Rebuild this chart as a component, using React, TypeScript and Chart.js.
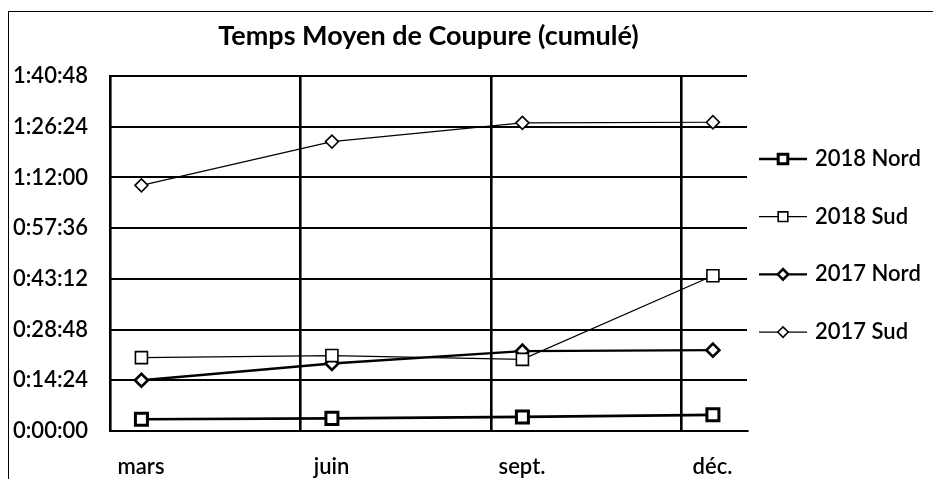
import React, { useEffect, useRef } from 'react';
import { Chart, registerables } from 'chart.js';

Chart.register(...registerables);

// ---- data (seconds) ----
const TITLE = 'Temps Moyen de Coupure (cumulé)';
const CATEGORIES = ['mars', 'juin', 'sept.', 'déc.'];
const SERIES_NAMES = ['2018 Nord', '2018 Sud', '2017 Nord', '2017 Sud'];
const NORD_2018 = [200, 215, 240, 275];
const SUD_2018 = [1250, 1285, 1220, 2645];
const NORD_2017 = [864, 1150, 1360, 1377];
const SUD_2017 = [4185, 4930, 5250, 5260];
const Y_MIN = 0;
const Y_MAX = 6048; // 1:40:48
const Y_STEP = 864; // 0:14:24

// ---- layout / style ----
const FONT = 'Lato, "Open Sans", sans-serif';
const LABEL_WEIGHT = 600;
const GRID_SHIFT = 0.165; // vertical gridlines sit slightly left of each category
const X_MAX_EXTRA = 0.179;

const SERIES_STYLES = [
  { pointStyle: 'rect', pointRadius: 8.5, borderWidth: 2.6, pointBorderWidth: 3 },
  { pointStyle: 'rect', pointRadius: 8.5, borderWidth: 1.2, pointBorderWidth: 1.6 },
  { pointStyle: 'rectRot', pointRadius: 6.5, borderWidth: 2.4, pointBorderWidth: 2.6 },
  { pointStyle: 'rectRot', pointRadius: 6.5, borderWidth: 1.2, pointBorderWidth: 1.6 },
];

const SERIES_VALUES = [NORD_2018, SUD_2018, NORD_2017, SUD_2017];

const pad2 = (n: number) => String(n).padStart(2, '0');
const fmtTime = (s: number) => {
  const t = Math.round(s);
  return `${Math.floor(t / 3600)}:${pad2(Math.floor((t % 3600) / 60))}:${pad2(t % 60)}`;
};

const lineLegend = {
  id: 'lineLegend',
  afterDraw(chart: any) {
    const { ctx, chartArea } = chart;
    const sets = chart.data.datasets;
    const n = sets.length;
    const spacing = 57.7;
    const cy = chart.height / 2;
    ctx.save();
    sets.forEach((ds: any, i: number) => {
      const y = cy + (i - (n - 1) / 2) * spacing;
      const x0 = chartArea.right + 12;
      const x1 = chartArea.right + 60;
      const xm = chartArea.right + 36;
      ctx.strokeStyle = '#000';
      ctx.lineWidth = ds.borderWidth;
      ctx.beginPath();
      ctx.moveTo(x0, y);
      ctx.lineTo(x1, y);
      ctx.stroke();
      const r = ds.pointRadius * 0.8;
      ctx.fillStyle = '#fff';
      ctx.lineWidth = ds.pointBorderWidth;
      ctx.beginPath();
      if (ds.pointStyle === 'rect') {
        const s = r * Math.SQRT1_2;
        ctx.rect(xm - s, y - s, 2 * s, 2 * s);
      } else {
        ctx.moveTo(xm - r, y);
        ctx.lineTo(xm, y - r);
        ctx.lineTo(xm + r, y);
        ctx.lineTo(xm, y + r);
        ctx.closePath();
      }
      ctx.fill();
      ctx.stroke();
      ctx.fillStyle = '#000';
      ctx.font = `${LABEL_WEIGHT} 22px ${FONT}`;
      ctx.textBaseline = 'middle';
      ctx.textAlign = 'left';
      ctx.fillText(ds.label, chartArea.right + 68, y);
    });
    ctx.restore();
  },
};

export default function App() {
  const ref = useRef<HTMLCanvasElement | null>(null);

  useEffect(() => {
    if (!ref.current) return;
    const datasets = SERIES_NAMES.map((name, k) => ({
      label: name,
      data: SERIES_VALUES[k].map((v, i) => ({ x: i, y: v })),
      borderColor: '#000',
      pointBackgroundColor: '#fff',
      pointBorderColor: '#000',
      backgroundColor: '#fff',
      tension: 0,
      fill: false,
      ...SERIES_STYLES[k],
    }));

    const chart = new Chart(ref.current, {
      type: 'line',
      data: { datasets } as any,
      plugins: [lineLegend],
      options: {
        animation: false,
        responsive: false,
        devicePixelRatio: 1,
        layout: { padding: { left: 3, right: 186, top: 0, bottom: 0 } },
        plugins: {
          legend: { display: false },
          tooltip: { enabled: false },
          title: {
            display: true,
            text: TITLE,
            fullSize: false,
            color: '#000',
            font: { family: FONT, size: 27, weight: 'bold', lineHeight: 1.2 },
            padding: { top: 8.5, bottom: 23.1 },
          },
        },
        scales: {
          x: {
            type: 'linear',
            min: -GRID_SHIFT,
            max: CATEGORIES.length - 1 + X_MAX_EXTRA,
            afterBuildTicks: (axis: any) => {
              axis.ticks = CATEGORIES.map((_, i) => ({ value: i - GRID_SHIFT }));
            },
            afterFit: (axis: any) => {
              axis.height = 48;
            },
            ticks: {
              callback: (_v: any, i: number) => CATEGORIES[i],
              labelOffset: 31,
              padding: 23,
              autoSkip: false,
              maxRotation: 0,
              color: '#000',
              font: { family: FONT, size: 22, weight: LABEL_WEIGHT },
            },
            grid: { color: '#000', lineWidth: 2.6, drawTicks: false },
            border: { display: true, color: '#000', width: 2 },
          },
          y: {
            type: 'linear',
            min: Y_MIN,
            max: Y_MAX,
            afterFit: (axis: any) => {
              axis.width = 98;
            },
            ticks: {
              stepSize: Y_STEP,
              callback: (v: any) => fmtTime(Number(v)),
              padding: 22,
              color: '#000',
              font: { family: FONT, size: 22, weight: LABEL_WEIGHT },
            },
            grid: { color: '#000', lineWidth: 2, drawTicks: false },
            border: { display: true, color: '#000', width: 2 },
          },
        },
      } as any,
    });
    return () => chart.destroy();
  }, []);

  return (
    <div
      style={{
        position: 'absolute',
        left: 8,
        top: 11,
        width: 924,
        height: 467,
        borderLeft: '1px solid #000',
        borderTop: '1px solid #000',
        background: '#fff',
      }}
    >
      <canvas ref={ref} width={924} height={467} style={{ display: 'block' }} />
    </div>
  );
}
